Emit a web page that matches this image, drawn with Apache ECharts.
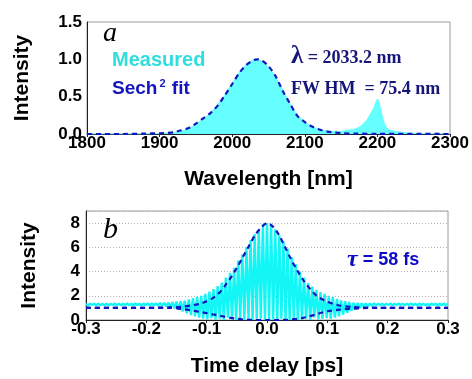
<!DOCTYPE html>
<html>
<head>
<meta charset="utf-8">
<script src="https://cdn.jsdelivr.net/npm/echarts@6/dist/echarts.min.js"></script>
<style>
  html, body { margin: 0; padding: 0; background: #fff; }
  #chart { width: 472px; height: 379px; }
</style>
</head>
<body>
<div id="chart"></div>
<script>
// panel a: spectrum
const measuredWl = [1800, 1850, 1880, 1900, 1920, 1930, 1940, 1950, 1960, 1970, 1980, 1990, 2000, 2010, 2020, 2030, 2035,
  2040, 2050, 2060, 2070, 2080, 2090, 2100, 2110, 2120, 2130, 2140, 2150, 2155, 2160, 2165, 2170, 2175, 2180, 2185,
  2190, 2195, 2198, 2200, 2202, 2204, 2206, 2208, 2210, 2213, 2217, 2225, 2235, 2245, 2260, 2300];
const measuredI = [0, 0, 0, 0.005, 0.02, 0.04, 0.07, 0.13, 0.2, 0.28, 0.39, 0.53, 0.68, 0.83, 0.94, 1.0, 1.0,
  0.98, 0.9, 0.76, 0.58, 0.4, 0.25, 0.16, 0.1, 0.06, 0.04, 0.03, 0.035, 0.045, 0.055, 0.055, 0.07, 0.09, 0.13, 0.18,
  0.26, 0.35, 0.43, 0.47, 0.44, 0.36, 0.27, 0.19, 0.13, 0.08, 0.05, 0.035, 0.02, 0.01, 0.005, 0];
const fitWl = [1800, 1850, 1880, 1900, 1910, 1920, 1930, 1940, 1950, 1960, 1970, 1980, 1990, 2000, 2010, 2020, 2030,
  2035, 2040, 2050, 2060, 2070, 2080, 2090, 2100, 2110, 2120, 2130, 2140, 2150, 2170, 2200, 2300];
const fitI = [0, 0, 0.005, 0.01, 0.015, 0.025, 0.05, 0.08, 0.14, 0.21, 0.28, 0.38, 0.52, 0.67, 0.82, 0.93, 0.99,
  1.0, 0.99, 0.91, 0.77, 0.57, 0.4, 0.24, 0.16, 0.1, 0.06, 0.035, 0.02, 0.01, 0.005, 0.003, 0];

// panel b: interferometric autocorrelation
const fringeStart = -0.3;
const fringePeriod = 0.6 / 88; // fringe spacing
const fringePeaks = [1.33, 1.35, 1.34, 1.36, 1.33, 1.35, 1.34, 1.36, 1.35, 1.34, 1.36, 1.35, 1.37, 1.35, 1.36, 1.38, 1.37, 1.38,
  1.4, 1.42, 1.45, 1.48, 1.52, 1.56, 1.6, 1.7,
  1.8, 1.9, 2.0, 2.15, 2.35, 2.55, 2.8, 3.1, 3.5, 3.9, 4.3, 4.9, 5.4, 6.0, 6.6, 7.1, 7.5, 7.9, 8.0,
  7.8, 7.5, 7.0, 6.5, 5.9, 5.2, 4.6, 4.0, 3.5, 3.05, 2.75, 2.5, 2.3, 2.15, 2.0, 1.9, 1.75, 1.62, 1.55, 1.48, 1.43, 1.4, 1.38,
  1.37, 1.36, 1.38, 1.35, 1.36, 1.34, 1.37, 1.35, 1.36, 1.34, 1.35, 1.37, 1.34, 1.36, 1.35, 1.33, 1.36, 1.34, 1.35, 1.36, 1.34];
const fringeTroughs = [1.22, 1.24, 1.21, 1.23, 1.22, 1.2, 1.23, 1.22, 1.21, 1.24, 1.22, 1.2, 1.23, 1.21, 1.22, 1.2, 1.21, 1.19,
  1.17, 1.12, 1.05, 0.95, 0.85, 0.7, 0.55, 0.4, 0.3, 0.2, 0.12,
  0.05, 0.15, 0.02, 0.1, 0, 0.2, 0.05, 0, 0.1, 0, 0.05, 0, 0, 0.1, 0, 0, 0.05, 0, 0.1, 0, 0, 0.15, 0, 0.05, 0.1, 0, 0.2, 0.05, 0.1, 0.15,
  0.1, 0.2, 0.3, 0.45, 0.6, 0.75, 0.9, 1.0, 1.08, 1.13, 1.17,
  1.2, 1.22, 1.21, 1.23, 1.2, 1.22, 1.24, 1.21, 1.23, 1.22, 1.2, 1.23, 1.21, 1.22, 1.24, 1.21, 1.22, 1.23];
const envT = [-0.3, -0.2, -0.18, -0.16, -0.14, -0.12, -0.11, -0.1, -0.09, -0.08, -0.07, -0.06, -0.05, -0.04, -0.03, -0.02, -0.01, 0,
  0.01, 0.02, 0.03, 0.04, 0.05, 0.06, 0.07, 0.08, 0.09, 0.1, 0.11, 0.12, 0.14, 0.16, 0.18, 0.2, 0.3];
const envUpper = [1.0, 1.0, 1.02, 1.04, 1.1, 1.25, 1.35, 1.55, 1.8, 2.2, 2.8, 3.5, 4.3, 5.2, 6.1, 7.0, 7.6, 8.0,
  7.7, 7.0, 6.0, 5.0, 4.1, 3.3, 2.65, 2.1, 1.75, 1.5, 1.33, 1.2, 1.08, 1.03, 1.01, 1.0, 1.0];
const envLowerT = [-0.3, -0.16, -0.14, -0.12, -0.11, -0.1, -0.09, -0.08, -0.07, -0.06, -0.05, -0.04, -0.03, -0.02, 0,
  0.02, 0.03, 0.04, 0.05, 0.06, 0.07, 0.08, 0.09, 0.1, 0.12, 0.14, 0.16, 0.18, 0.3];
const envLower = [1.0, 1.0, 0.9, 0.75, 0.65, 0.57, 0.47, 0.37, 0.27, 0.18, 0.1, 0.04, 0.01, 0, 0,
  0, 0.01, 0.04, 0.1, 0.18, 0.3, 0.45, 0.6, 0.72, 0.85, 0.93, 0.98, 1.0, 1.0];

const fringeData = [];
fringePeaks.forEach((v, i) => {
  const t = fringeStart + i * fringePeriod;
  fringeData.push([t, v]);
  if (i < fringeTroughs.length) fringeData.push([t + fringePeriod / 2, fringeTroughs[i]]);
});

const zip = (xs, ys) => xs.map((x, i) => [x, ys[i]]);

const sans = 'Liberation Sans';
const serif = 'Liberation Serif';
const fitBlue = '#1414c0';
const cyan = '#66ffff';

const chart = echarts.init(document.getElementById('chart'), null, { renderer: 'canvas' });

const labelStyle = { color: '#000', fontFamily: sans, fontWeight: 'bold', fontSize: 17 };
const axisCommon = {
  axisLine: { show: true, onZero: false, lineStyle: { color: '#222', width: 1 } },
  nameTextStyle: { color: '#000', fontFamily: sans, fontWeight: 'bold', fontSize: 21 },
};

const option = {
  animation: false,
  grid: [
    { left: 87, top: 22, width: 363, height: 112, show: true, borderColor: '#9a9a9a', borderWidth: 1 },
    { left: 86, top: 211, width: 362, height: 109, show: true, borderColor: '#9a9a9a', borderWidth: 1 },
  ],
  xAxis: [
    {
      ...axisCommon, gridIndex: 0, type: 'value', min: 1800, max: 2300, interval: 100,
      name: 'Wavelength [nm]', nameLocation: 'middle', nameGap: 35,
      axisTick: { show: true, length: 3, lineStyle: { color: '#222' } },
      axisLabel: { ...labelStyle, margin: 1, formatter: v => String(v) },
      splitLine: { show: false },
    },
    {
      ...axisCommon, gridIndex: 1, type: 'value', min: -0.3, max: 0.3, interval: 0.1,
      name: 'Time delay [ps]', nameLocation: 'middle', nameGap: 36,
      axisTick: { show: true, length: 3, lineStyle: { color: '#222' } },
      axisLabel: { ...labelStyle, margin: 1, formatter: v => v.toFixed(1) },
      splitLine: { show: false },
    },
  ],
  yAxis: [
    {
      ...axisCommon, gridIndex: 0, type: 'value', min: 0, max: 1.5, interval: 0.5,
      name: 'Intensity', nameLocation: 'middle', nameGap: 54,
      axisTick: { show: false },
      axisLabel: { ...labelStyle, margin: 5, formatter: v => v.toFixed(1) },
      splitLine: { show: false },
    },
    {
      ...axisCommon, gridIndex: 1, type: 'value', min: 0, max: 9, interval: 2,
      name: 'Intensity', nameLocation: 'middle', nameGap: 46,
      axisTick: { show: false },
      axisLabel: { ...labelStyle, margin: 6, formatter: v => (v > 8 ? '' : String(v)) },
      splitLine: { show: true, lineStyle: { color: '#b0b0b0', type: [1, 2], width: 1 } },
    },
  ],
  series: [
    {
      type: 'line', xAxisIndex: 0, yAxisIndex: 0, data: zip(measuredWl, measuredI),
      showSymbol: false, lineStyle: { color: cyan, width: 1 }, areaStyle: { color: cyan, opacity: 1 }, z: 2,
    },
    {
      type: 'line', xAxisIndex: 0, yAxisIndex: 0, data: zip(fitWl, fitI), smooth: 0.3,
      showSymbol: false, lineStyle: { color: fitBlue, width: 2.2, type: [5, 4] }, z: 3,
    },
    {
      type: 'line', xAxisIndex: 1, yAxisIndex: 1, data: fringeData,
      showSymbol: false, lineStyle: { color: '#14f6f6', width: 2.4 }, z: 2,
    },
    {
      type: 'line', xAxisIndex: 1, yAxisIndex: 1, data: zip(envT, envUpper), smooth: 0.3,
      showSymbol: false, lineStyle: { color: fitBlue, width: 2.2, type: [5, 4] }, z: 3,
    },
    {
      type: 'line', xAxisIndex: 1, yAxisIndex: 1, data: zip(envLowerT, envLower), smooth: 0.3,
      showSymbol: false, lineStyle: { color: fitBlue, width: 2.2, type: [5, 4] }, z: 3,
    },
  ],
  graphic: [
    { type: 'text', left: 103, top: 20, z: 10, style: { text: 'a', font: `italic 28px "${serif}"`, fill: '#000' } },
    { type: 'text', left: 112, top: 50, z: 10, style: { text: 'Measured', font: `bold 20px "${sans}"`, fill: '#2fdede' } },
    {
      type: 'text', left: 112, top: 78, z: 10,
      style: {
        text: '{m|Sech}{s|2}{m| fit}',
        rich: {
          m: { font: `bold 19px "${sans}"`, fill: fitBlue, verticalAlign: 'bottom' },
          s: { font: `bold 11px "${sans}"`, fill: fitBlue, verticalAlign: 'top', padding: [0, 1, 9, 2] },
        },
      },
    },
    {
      type: 'text', left: 291, top: 44, z: 10,
      style: {
        text: '{l|λ}{r| = 2033.2 nm}',
        rich: {
          l: { font: `bold 25px "${serif}"`, fill: '#16167a', verticalAlign: 'bottom' },
          r: { font: `bold 18px "${serif}"`, fill: '#16167a', verticalAlign: 'bottom', padding: [0, 0, 2, 0] },
        },
      },
    },
    { type: 'text', left: 291, top: 80, z: 10, style: { text: 'FW HM  = 75.4 nm', font: `bold 18px "${serif}"`, fill: '#16167a' } },
    { type: 'text', left: 103, top: 215, z: 10, style: { text: 'b', font: `italic 30px "${serif}"`, fill: '#000' } },
    {
      type: 'text', left: 347, top: 248, z: 10,
      style: {
        text: '{t|τ}{r| = 58 fs}',
        rich: {
          t: { font: `italic bold 24px "${serif}"`, fill: '#0c0cc8' },
          r: { font: `bold 18px "${sans}"`, fill: '#0c0cc8' },
        },
      },
    },
  ],
};

chart.setOption(option);
</script>
</body>
</html>
